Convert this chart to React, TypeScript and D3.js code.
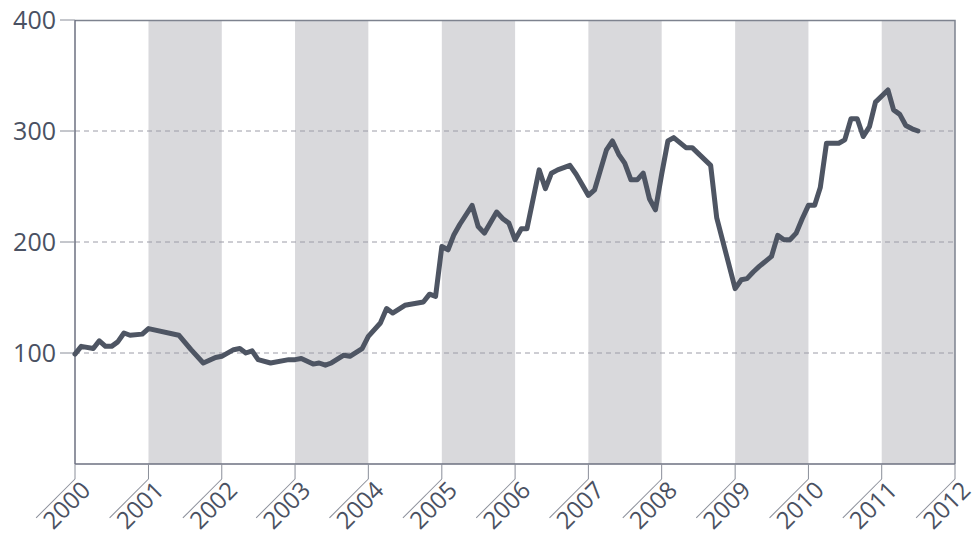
import React, { useRef, useEffect } from 'react';
import * as d3 from 'd3';

// monthly observations (only the turning points of the line)
const dates = [
  '2000-01', '2000-02', '2000-04', '2000-05', '2000-06', '2000-07', '2000-08', '2000-09', '2000-10', '2000-12',
  '2001-01', '2001-06', '2001-08', '2001-10', '2001-12',
  '2002-01', '2002-03', '2002-04', '2002-05', '2002-06', '2002-07', '2002-09', '2002-12',
  '2003-01', '2003-02', '2003-04', '2003-05', '2003-06', '2003-07', '2003-09', '2003-10', '2003-12',
  '2004-01', '2004-03', '2004-04', '2004-05', '2004-07', '2004-10', '2004-11', '2004-12',
  '2005-01', '2005-02', '2005-03', '2005-04', '2005-06', '2005-07', '2005-08', '2005-10', '2005-11', '2005-12',
  '2006-01', '2006-02', '2006-03', '2006-05', '2006-06', '2006-07', '2006-08', '2006-10', '2006-11',
  '2007-01', '2007-02', '2007-04', '2007-05', '2007-06', '2007-07', '2007-08', '2007-09', '2007-10', '2007-11', '2007-12',
  '2008-01', '2008-02', '2008-03', '2008-05', '2008-06', '2008-09', '2008-10',
  '2009-01', '2009-02', '2009-03', '2009-04', '2009-05', '2009-07', '2009-08', '2009-09', '2009-10', '2009-11', '2009-12',
  '2010-01', '2010-02', '2010-03', '2010-04', '2010-06', '2010-07', '2010-08', '2010-09', '2010-10', '2010-11', '2010-12',
  '2011-02', '2011-03', '2011-04', '2011-05', '2011-06', '2011-07',
];

const values = [
  99, 106, 104, 111, 106, 106, 110, 118, 116, 117,
  122, 116, 103, 91, 96,
  97, 103, 104, 100, 102, 94, 91, 94,
  94, 95, 90, 91, 89, 91, 98, 97, 104,
  115, 127, 140, 136, 143, 146, 153, 151,
  196, 193, 206, 216, 233, 214, 208, 227, 221, 217,
  202, 212, 212, 265, 248, 262, 265, 269, 261,
  242, 247, 283, 291, 279, 271, 256, 256, 262, 239, 229,
  261, 291, 294, 285, 285, 269, 222,
  158, 166, 167, 173, 178, 187, 206, 202, 202, 208, 221,
  233, 233, 249, 289, 289, 292, 311, 311, 295, 304, 326,
  337, 319, 315, 305, 302, 300,
];

const yTicks = [100, 200, 300, 400];
const yearTicks = d3.range(2000, 2013);

const App = () => {
  const chartRef = useRef(null);

  useEffect(() => {
    const margin = { top: 20, right: 20, bottom: 72, left: 75 };
    const width = 975 - margin.left - margin.right;
    const height = 536 - margin.top - margin.bottom;
    const parse = d3.timeParse('%Y-%m');
    const data = dates.map((d, i) => ({ date: parse(d), value: values[i] }));

    const textColor = '#4a5162';
    const font = '"Open Sans", "Noto Sans", sans-serif';

    d3.select(chartRef.current).selectAll('*').remove();

    const svg = d3
      .select(chartRef.current)
      .append('svg')
      .attr('width', 975)
      .attr('height', 536)
      .style('position', 'absolute')
      .style('left', 0)
      .style('top', 0)
      .append('g')
      .attr('transform', `translate(${margin.left}, ${margin.top})`);

    const x = d3
      .scaleTime()
      .domain([new Date(2000, 0, 1), new Date(2012, 0, 1)])
      .range([0, width]);

    const y = d3.scaleLinear().domain([0, 400]).range([height, 0]);

    // alternating year bands
    svg
      .selectAll('.band')
      .data(yearTicks.filter((yr) => yr % 2 === 1 && yr < 2012))
      .join('rect')
      .attr('x', (yr) => x(new Date(yr, 0, 1)))
      .attr('width', (yr) => x(new Date(yr + 1, 0, 1)) - x(new Date(yr, 0, 1)))
      .attr('y', 0)
      .attr('height', height)
      .attr('fill', '#d9d9dc');

    // dashed grid lines
    svg
      .selectAll('.grid')
      .data(yTicks.filter((t) => t < 400))
      .join('line')
      .attr('x1', 0)
      .attr('x2', width)
      .attr('y1', (d) => y(d))
      .attr('y2', (d) => y(d))
      .attr('stroke', '#9c9ca7')
      .attr('stroke-width', 1)
      .attr('stroke-dasharray', '5,4');

    // frame: top and right
    svg
      .append('path')
      .attr('d', `M0,0.5H${width}V${height}`)
      .attr('fill', 'none')
      .attr('stroke', '#7e838f')
      .attr('stroke-width', 1.5);

    // y axis
    const yAxis = svg.append('g');
    yAxis
      .append('line')
      .attr('x1', 0)
      .attr('x2', 0)
      .attr('y1', 0)
      .attr('y2', height)
      .attr('stroke', '#6c7180')
      .attr('stroke-width', 1.5);
    const yTick = yAxis
      .selectAll('.ytick')
      .data(yTicks)
      .join('g')
      .attr('transform', (d) => `translate(0, ${y(d)})`);
    yTick
      .append('line')
      .attr('x1', -15)
      .attr('x2', 0)
      .attr('stroke', '#8a8e99')
      .attr('stroke-width', 1);
    yTick
      .append('text')
      .attr('x', -19)
      .attr('dy', '0.36em')
      .attr('text-anchor', 'end')
      .attr('font-family', font)
      .attr('font-size', 25)
      .attr('fill', textColor)
      .text((d) => d);

    // x axis
    const xAxis = svg.append('g').attr('transform', `translate(0, ${height})`);
    xAxis
      .append('line')
      .attr('x1', 0)
      .attr('x2', width)
      .attr('stroke', '#6c7180')
      .attr('stroke-width', 1.5);
    const xTick = xAxis
      .selectAll('.xtick')
      .data(yearTicks)
      .join('g')
      .attr('transform', (yr) => `translate(${x(new Date(yr, 0, 1))}, 0)`);
    xTick
      .append('line')
      .attr('y1', 0)
      .attr('y2', 15)
      .attr('stroke', '#8a8e99')
      .attr('stroke-width', 1);
    const label = xTick.append('g').attr('transform', 'translate(0, 15) rotate(-45)');
    label
      .append('line')
      .attr('x1', 0)
      .attr('x2', -55)
      .attr('stroke', '#8a8e99')
      .attr('stroke-width', 1);
    label
      .append('text')
      .attr('x', 3)
      .attr('y', 21)
      .attr('text-anchor', 'end')
      .attr('font-family', font)
      .attr('font-size', 24)
      .attr('fill', textColor)
      .text((yr) => yr);

    // the series
    svg
      .append('path')
      .datum(data)
      .attr('fill', 'none')
      .attr('stroke', '#4e5563')
      .attr('stroke-width', 5)
      .attr('stroke-linejoin', 'round')
      .attr('stroke-linecap', 'round')
      .attr(
        'd',
        d3
          .line()
          .x((d) => x(d.date))
          .y((d) => y(d.value))
      );
  }, []);

  return <div ref={chartRef}></div>;
};

export default App;
